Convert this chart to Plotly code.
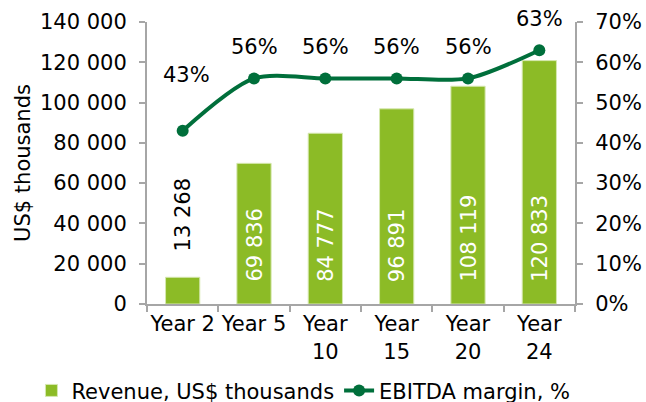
import plotly.graph_objects as go

# Chart data
years = ["Year 2", "Year 5", "Year<br>10", "Year<br>15", "Year<br>20", "Year<br>24"]
revenue = [13268, 69836, 84777, 96891, 108119, 120833]
ebitda_margin = [0.43, 0.56, 0.56, 0.56, 0.56, 0.63]

BAR_GREEN = "#8cbb26"
LINE_GREEN = "#006f3b"
AXIS_GRAY = "#a6a6a6"
FONT = "Verdana, DejaVu Sans, sans-serif"
FS = 21

fig = go.Figure()

fig.add_trace(go.Bar(
    x=years, y=revenue, name="Revenue, US$ thousands",
    marker=dict(color=BAR_GREEN, line=dict(color="#d6e8b0", width=1)),
    width=0.48,
))

fig.add_trace(go.Scatter(
    x=years, y=ebitda_margin, name="EBITDA margin, %", yaxis="y2",
    mode="lines+markers",
    line=dict(color=LINE_GREEN, width=4, shape="spline", smoothing=0.8),
    marker=dict(color=LINE_GREEN, size=12),
))

annotations = []
# Revenue labels: vertical, inside the bar base when the bar is tall enough
for cat, v in zip(years, revenue):
    inside = v > 30000
    annotations.append(dict(
        x=cat, y=0 if inside else v, xref="x", yref="y",
        text=f"{v:,}".replace(",", " "), textangle=-90,
        showarrow=False, yanchor="bottom", xanchor="center",
        yshift=20 if inside else 24,
        font=dict(family=FONT, size=FS, color="white" if inside else "black"),
    ))
# EBITDA margin labels above the line points
for i, (cat, m) in enumerate(zip(years, ebitda_margin)):
    annotations.append(dict(
        x=cat, y=m, xref="x", yref="y2",
        text=f"{m:.0%}", showarrow=False,
        yanchor="middle", xanchor="center",
        yshift=56 if i == 0 else 31, xshift=4 if i == 0 else 0,
        font=dict(family=FONT, size=FS, color="black"),
    ))

fig.update_layout(
    width=646, height=402,
    margin=dict(l=147, r=71, t=22, b=98, autoexpand=False),
    paper_bgcolor="white", plot_bgcolor="white",
    font=dict(family=FONT, size=FS, color="black"),
    separators=". ",
    showlegend=True,
    legend=dict(
        orientation="h",
        x=-0.27, y=-0.235, xanchor="left", yanchor="top",
        font=dict(family=FONT, size=FS), itemwidth=30,
        tracegroupgap=0, bgcolor="rgba(0,0,0,0)",
    ),
    xaxis=dict(
        type="category", range=[-0.5, 5.5], tickangle=0, automargin=False,
        showline=True, linecolor=AXIS_GRAY, linewidth=2,
        ticks="outside", tickson="boundaries", ticklen=6,
        tickcolor=AXIS_GRAY, tickwidth=2,
        showgrid=False, tickfont=dict(size=FS),
    ),
    yaxis=dict(
        range=[0, 140000], dtick=20000, tickformat=",d", automargin=False,
        showline=True, linecolor=AXIS_GRAY, linewidth=2,
        ticks="outside", ticklen=6, tickcolor=AXIS_GRAY, tickwidth=2,
        showgrid=False, zeroline=False, ticklabelstandoff=8,
        title=dict(text="US$ thousands", font=dict(size=FS), standoff=4),
    ),
    yaxis2=dict(
        range=[0, 0.7], dtick=0.1, tickformat=".0%", automargin=False,
        overlaying="y", side="right",
        showline=True, linecolor=AXIS_GRAY, linewidth=2,
        ticks="outside", ticklen=6, tickcolor=AXIS_GRAY, tickwidth=2,
        showgrid=False, zeroline=False, ticklabelstandoff=8,
    ),
    annotations=annotations,
)

fig.write_html("out.html")
